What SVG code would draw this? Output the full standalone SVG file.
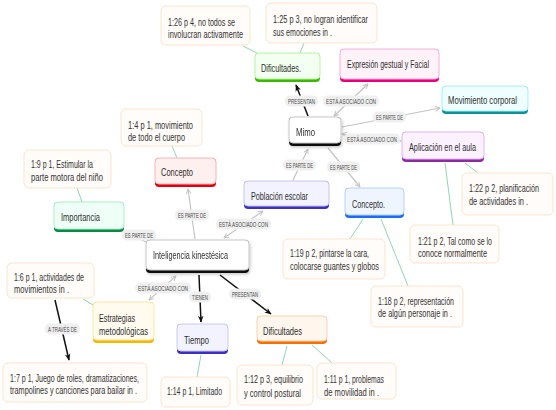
<svg xmlns="http://www.w3.org/2000/svg" width="556" height="410" viewBox="0 0 556 410">
<defs>
<style>
text{font-family:"Liberation Sans Narrow","Liberation Sans",Arial,sans-serif;}
.nt{font-size:10.5px;fill:#2e2e2e;}
.qt{font-size:10px;fill:#333;}
.lt{font-size:7px;fill:#4a4a4a;}
.q{fill:#fffcf9;stroke:#fde3cc;stroke-width:1;}
.lb{fill:#efefef;}
.cg{stroke:#c4c4c4;stroke-width:1.2;fill:none;}
.ck{stroke:#111;stroke-width:1.5;fill:none;}
.cq{stroke:#8fd8b0;stroke-width:1;fill:none;}
</style>
<marker id="ag" viewBox="0 0 10 10" refX="9" refY="5" markerWidth="6" markerHeight="6" markerUnits="userSpaceOnUse" orient="auto-start-reverse"><path d="M1,1 L9,5 L1,9" fill="none" stroke="#c4c4c4" stroke-width="1.6"/></marker>
<marker id="ak" viewBox="0 0 10 10" refX="9" refY="5" markerWidth="7" markerHeight="7" markerUnits="userSpaceOnUse" orient="auto"><path d="M0,1 L10,5 L0,9 L3,5 Z" fill="#111"/></marker>
<filter id="sh" x="-20%" y="-20%" width="140%" height="160%"><feDropShadow dx="1" dy="1.5" stdDeviation="1.5" flood-color="#000" flood-opacity="0.22"/></filter>
</defs>
<rect width="556" height="410" fill="#ffffff"/>

<g id="connectors">
<line class="cq" x1="243" y1="46" x2="257" y2="53"/>
<line class="cq" x1="304" y1="43" x2="300" y2="53"/>
<line class="cq" x1="172" y1="146" x2="177" y2="158"/>
<line class="cq" x1="77" y1="188" x2="82" y2="202"/>
<line class="cq" x1="465" y1="163" x2="478" y2="173"/>
<line class="cq" x1="445" y1="163" x2="453" y2="225"/>
<line class="cq" x1="363" y1="219" x2="350" y2="239"/>
<line class="cq" x1="381" y1="219" x2="408" y2="286"/>
<line class="cq" x1="83" y1="299" x2="93" y2="305"/>
<line class="cq" x1="201" y1="355" x2="197" y2="377"/>
<line class="cq" x1="287" y1="346" x2="282" y2="365"/>
<line class="cq" x1="312" y1="345" x2="332" y2="363"/>

<line class="ck" x1="308" y1="116" x2="296" y2="85" marker-end="url(#ak)"/>
<line class="cg" x1="334" y1="116" x2="368" y2="84" marker-start="url(#ag)" marker-end="url(#ag)"/>
<line class="cg" x1="342" y1="127" x2="440" y2="108" marker-end="url(#ag)"/>
<line class="cg" x1="342" y1="134" x2="401" y2="141" marker-start="url(#ag)" marker-end="url(#ag)"/>
<line class="cg" x1="293" y1="180" x2="308" y2="149" marker-end="url(#ag)"/>
<line class="cg" x1="328" y1="148" x2="360" y2="187" marker-end="url(#ag)"/>
<line class="cg" x1="195" y1="239" x2="188" y2="189" marker-end="url(#ag)"/>
<line class="cg" x1="224" y1="238" x2="263" y2="211" marker-start="url(#ag)" marker-end="url(#ag)"/>
<line class="cg" x1="146" y1="242" x2="125" y2="232" marker-end="url(#ag)"/>
<line class="cg" x1="176" y1="276" x2="149" y2="300" marker-start="url(#ag)" marker-end="url(#ag)"/>
<line class="ck" x1="199" y1="275" x2="201" y2="322" marker-end="url(#ak)"/>
<line class="ck" x1="220" y1="275" x2="271" y2="314" marker-end="url(#ak)"/>
<line class="ck" x1="55" y1="300" x2="69" y2="360" marker-end="url(#ak)"/>

<rect class="lb" x="285" y="95.5" width="33" height="11" rx="5"/><text class="lt" x="288" y="103.5" textLength="27" lengthAdjust="spacingAndGlyphs">PRESENTAN</text>
<rect class="lb" x="323" y="95.5" width="56" height="11" rx="5"/><text class="lt" x="326" y="103.5" textLength="50" lengthAdjust="spacingAndGlyphs">ESTÁ ASOCIADO CON</text>
<rect class="lb" x="373" y="111.5" width="33" height="11" rx="5"/><text class="lt" x="376" y="119.5" textLength="27" lengthAdjust="spacingAndGlyphs">ES PARTE DE</text>
<rect class="lb" x="344" y="133.5" width="56" height="11" rx="5"/><text class="lt" x="347" y="141.5" textLength="50" lengthAdjust="spacingAndGlyphs">ESTÁ ASOCIADO CON</text>
<rect class="lb" x="283" y="159.5" width="33" height="11" rx="5"/><text class="lt" x="286" y="167.5" textLength="27" lengthAdjust="spacingAndGlyphs">ES PARTE DE</text>
<rect class="lb" x="327" y="161.5" width="33" height="11" rx="5"/><text class="lt" x="330" y="169.5" textLength="27" lengthAdjust="spacingAndGlyphs">ES PARTE DE</text>
<rect class="lb" x="175" y="209.5" width="34" height="11" rx="5"/><text class="lt" x="178" y="217.5" textLength="28" lengthAdjust="spacingAndGlyphs">ES PARTE DE</text>
<rect class="lb" x="216" y="218.5" width="55" height="11" rx="5"/><text class="lt" x="219" y="226.5" textLength="49" lengthAdjust="spacingAndGlyphs">ESTÁ ASOCIADO CON</text>
<rect class="lb" x="122" y="229.5" width="34" height="11" rx="5"/><text class="lt" x="125" y="237.5" textLength="28" lengthAdjust="spacingAndGlyphs">ES PARTE DE</text>
<rect class="lb" x="135" y="282.5" width="56" height="11" rx="5"/><text class="lt" x="138" y="290.5" textLength="50" lengthAdjust="spacingAndGlyphs">ESTÁ ASOCIADO CON</text>
<rect class="lb" x="189" y="291.5" width="22" height="11" rx="5"/><text class="lt" x="192" y="299.5" textLength="16" lengthAdjust="spacingAndGlyphs">TIENEN</text>
<rect class="lb" x="229" y="288.5" width="32" height="11" rx="5"/><text class="lt" x="232" y="296.5" textLength="26" lengthAdjust="spacingAndGlyphs">PRESENTAN</text>
<rect class="lb" x="45" y="323.5" width="35" height="11" rx="5"/><text class="lt" x="48" y="331.5" textLength="29" lengthAdjust="spacingAndGlyphs">A TRAVÉS DE</text>
</g>

<g id="n-dificultades-verde">
<rect x="255" y="53" width="65" height="29" rx="4" fill="#3cb800"/>
<rect x="255" y="53" width="65" height="26" rx="4" fill="#f3fff0" stroke="#b8f5a0"/>
<text class="nt" x="261" y="71.5" textLength="40" lengthAdjust="spacingAndGlyphs">Dificultades.</text>
</g>
<g id="n-expresion">
<rect x="340" y="49" width="99" height="33" rx="4" fill="#e6007e"/>
<rect x="340" y="49" width="99" height="30" rx="4" fill="#fff3f9" stroke="#f9b0d8"/>
<text class="nt" x="347" y="67.5" textLength="82" lengthAdjust="spacingAndGlyphs">Expresión gestual y Facial</text>
</g>
<g id="n-movimiento">
<rect x="442" y="86" width="86" height="28" rx="4" fill="#0a9396"/>
<rect x="442" y="86" width="86" height="25" rx="4" fill="#effeff" stroke="#a8f0f5"/>
<text class="nt" x="448" y="103.5" textLength="69" lengthAdjust="spacingAndGlyphs">Movimiento corporal</text>
</g>
<g id="n-mimo" filter="url(#sh)">
<rect x="289" y="117" width="52" height="29" rx="4" fill="#111"/>
<rect x="289" y="117" width="52" height="26" rx="4" fill="#ffffff" stroke="#c8c8c8"/>
<text class="nt" x="296" y="135.5" textLength="19" lengthAdjust="spacingAndGlyphs">Mimo</text>
</g>
<g id="n-aplicacion">
<rect x="402" y="132" width="82" height="30" rx="4" fill="#8a2ba0"/>
<rect x="402" y="132" width="82" height="27" rx="4" fill="#fbf1ff" stroke="#e2b4f2"/>
<text class="nt" x="409" y="150.5" textLength="67" lengthAdjust="spacingAndGlyphs">Aplicación en el aula</text>
</g>
<g id="n-concepto-azul">
<rect x="345" y="188" width="59" height="30" rx="4" fill="#1a6cf5"/>
<rect x="345" y="188" width="59" height="27" rx="4" fill="#eef5ff" stroke="#b4d2ff"/>
<text class="nt" x="352" y="207.5" textLength="33" lengthAdjust="spacingAndGlyphs">Concepto.</text>
</g>
<g id="n-poblacion">
<rect x="244" y="181" width="85" height="28" rx="4" fill="#3c2fc0"/>
<rect x="244" y="181" width="85" height="25" rx="4" fill="#f3f3ff" stroke="#c4c4f5"/>
<text class="nt" x="251" y="199.5" textLength="57" lengthAdjust="spacingAndGlyphs">Población escolar</text>
</g>
<g id="n-concepto-rojo">
<rect x="155" y="158" width="61" height="29" rx="4" fill="#e00010"/>
<rect x="155" y="158" width="61" height="26" rx="4" fill="#fff0f0" stroke="#f5b4b4"/>
<text class="nt" x="161" y="175.5" textLength="32" lengthAdjust="spacingAndGlyphs">Concepto</text>
</g>
<g id="n-importancia">
<rect x="54" y="202" width="70" height="30" rx="4" fill="#0a8a45"/>
<rect x="54" y="202" width="70" height="27" rx="4" fill="#effff7" stroke="#a8f0cc"/>
<text class="nt" x="61" y="220.5" textLength="39" lengthAdjust="spacingAndGlyphs">Importancia</text>
</g>
<g id="n-inteligencia" filter="url(#sh)">
<rect x="146" y="240" width="103" height="33" rx="4" fill="#111"/>
<rect x="146" y="240" width="103" height="30" rx="4" fill="#ffffff" stroke="#c8c8c8"/>
<text class="nt" x="153" y="258.5" textLength="75" lengthAdjust="spacingAndGlyphs">Inteligencia kinestésica</text>
</g>
<g id="n-estrategias">
<rect x="93" y="302" width="61" height="41" rx="4" fill="#f5b800"/>
<rect x="93" y="302" width="61" height="38" rx="4" fill="#fffbef" stroke="#fde5a0"/>
<text class="nt" x="99" y="321.5" textLength="36" lengthAdjust="spacingAndGlyphs">Estrategias</text>
<text class="nt" x="99" y="334.5" textLength="49" lengthAdjust="spacingAndGlyphs">metodológicas</text>
</g>
<g id="n-tiempo">
<rect x="177" y="324" width="51" height="30" rx="4" fill="#3a2fc0"/>
<rect x="177" y="324" width="51" height="27" rx="4" fill="#f3f3ff" stroke="#c8c8f8"/>
<text class="nt" x="184" y="343.5" textLength="25" lengthAdjust="spacingAndGlyphs">Tiempo</text>
</g>
<g id="n-dificultades-naranja">
<rect x="257" y="316" width="70" height="28" rx="4" fill="#f57000"/>
<rect x="257" y="316" width="70" height="25" rx="4" fill="#fff6ee" stroke="#fdd0b0"/>
<text class="nt" x="263" y="334.5" textLength="39" lengthAdjust="spacingAndGlyphs">Dificultades</text>
</g>

<g id="q-126">
<rect class="q" x="161" y="6" width="89" height="39" rx="5"/>
<text class="qt" x="168" y="25.5" textLength="67" lengthAdjust="spacingAndGlyphs">1:26 p 4, no todos se</text>
<text class="qt" x="168" y="37.5" textLength="75" lengthAdjust="spacingAndGlyphs">involucran activamente</text>
</g>
<g id="q-125">
<rect class="q" x="266" y="3" width="111" height="40" rx="5"/>
<text class="qt" x="273" y="22.5" textLength="95" lengthAdjust="spacingAndGlyphs">1:25 p 3, no logran identificar</text>
<text class="qt" x="273" y="35.5" textLength="59" lengthAdjust="spacingAndGlyphs">sus emociones in .</text>
</g>
<g id="q-14">
<rect class="q" x="121" y="109" width="81" height="37" rx="5"/>
<text class="qt" x="128" y="128.5" textLength="65" lengthAdjust="spacingAndGlyphs">1:4 p 1, movimiento</text>
<text class="qt" x="128" y="140.5" textLength="57" lengthAdjust="spacingAndGlyphs">de todo el cuerpo</text>
</g>
<g id="q-19">
<rect class="q" x="24" y="150" width="87" height="38" rx="5"/>
<text class="qt" x="31" y="167.5" textLength="62" lengthAdjust="spacingAndGlyphs">1:9 p 1, Estimular la</text>
<text class="qt" x="31" y="180.5" textLength="72" lengthAdjust="spacingAndGlyphs">parte motora del niño</text>
</g>
<g id="q-122">
<rect class="q" x="462" y="173" width="91" height="42" rx="5"/>
<text class="qt" x="469" y="191.5" textLength="70" lengthAdjust="spacingAndGlyphs">1:22 p 2, planificación</text>
<text class="qt" x="469" y="204.5" textLength="59" lengthAdjust="spacingAndGlyphs">de actividades in .</text>
</g>
<g id="q-121">
<rect class="q" x="410" y="225" width="89" height="38" rx="5"/>
<text class="qt" x="418" y="244.5" textLength="74" lengthAdjust="spacingAndGlyphs">1:21 p 2, Tal como se lo</text>
<text class="qt" x="418" y="256.5" textLength="69" lengthAdjust="spacingAndGlyphs">conoce normalmente</text>
</g>
<g id="q-119">
<rect class="q" x="283" y="239" width="102" height="40" rx="5"/>
<text class="qt" x="290" y="256.5" textLength="79" lengthAdjust="spacingAndGlyphs">1:19 p 2, pintarse la cara,</text>
<text class="qt" x="290" y="269.5" textLength="89" lengthAdjust="spacingAndGlyphs">colocarse guantes y globos</text>
</g>
<g id="q-118">
<rect class="q" x="371" y="286" width="92" height="41" rx="5"/>
<text class="qt" x="378" y="304.5" textLength="76" lengthAdjust="spacingAndGlyphs">1:18 p 2, representación</text>
<text class="qt" x="378" y="316.5" textLength="74" lengthAdjust="spacingAndGlyphs">de algún personaje in .</text>
</g>
<g id="q-16">
<rect class="q" x="7" y="263" width="87" height="35" rx="5"/>
<text class="qt" x="14" y="280.5" textLength="70" lengthAdjust="spacingAndGlyphs">1:6 p 1, actividades de</text>
<text class="qt" x="14" y="292.5" textLength="55" lengthAdjust="spacingAndGlyphs">movimientos in .</text>
</g>
<g id="q-17">
<rect class="q" x="3" y="363" width="144" height="39" rx="5"/>
<text class="qt" x="10" y="381.5" textLength="129" lengthAdjust="spacingAndGlyphs">1:7 p 1, Juego de roles, dramatizaciones,</text>
<text class="qt" x="10" y="393.5" textLength="127" lengthAdjust="spacingAndGlyphs">trampolines y canciones para bailar in .</text>
</g>
<g id="q-114">
<rect class="q" x="161" y="377" width="69" height="30" rx="5"/>
<text class="qt" x="167" y="394.5" textLength="55" lengthAdjust="spacingAndGlyphs">1:14 p 1, Limitado</text>
</g>
<g id="q-112">
<rect class="q" x="237" y="365" width="76" height="40" rx="5"/>
<text class="qt" x="244" y="382.5" textLength="59" lengthAdjust="spacingAndGlyphs">1:12 p 3, equilibrio</text>
<text class="qt" x="244" y="396.5" textLength="57" lengthAdjust="spacingAndGlyphs">y control postural</text>
</g>
<g id="q-111">
<rect class="q" x="317" y="363" width="79" height="36" rx="5"/>
<text class="qt" x="324" y="382.5" textLength="60" lengthAdjust="spacingAndGlyphs">1:11 p 1, problemas</text>
<text class="qt" x="324" y="395.5" textLength="55" lengthAdjust="spacingAndGlyphs">de movilidad in .</text>
</g>
</svg>
